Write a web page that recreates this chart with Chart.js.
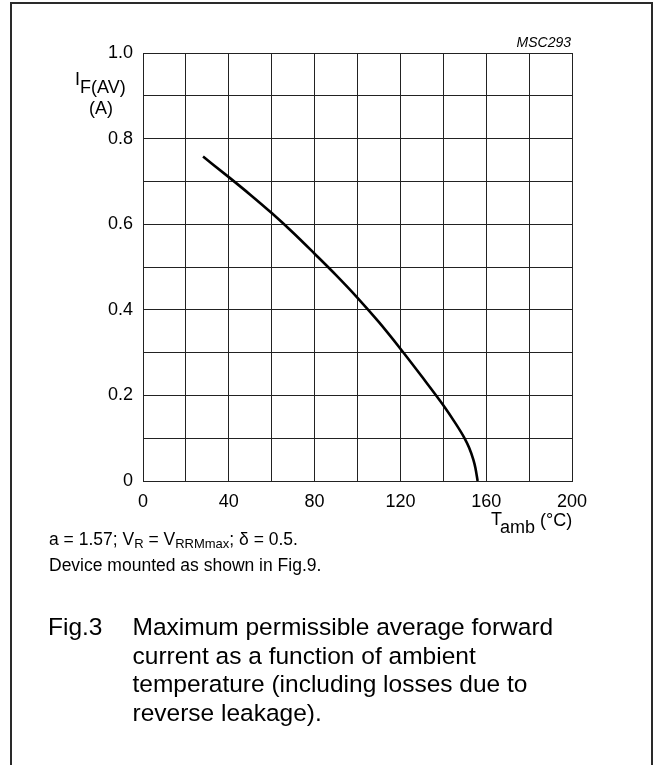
<!DOCTYPE html>
<html>
<head>
<meta charset="utf-8">
<title>Fig.3 - Maximum permissible average forward current</title>
<script src="https://cdn.jsdelivr.net/npm/chart.js@4.4.1/dist/chart.umd.min.js"></script>
<style>
    html, body {
        margin: 0;
        padding: 0;
        background: #fff;
        overflow: hidden;
    }
    #page {
        position: relative;
        width: 653px;
        height: 765px;
        font-family: "Liberation Sans", Arial, Helvetica, sans-serif;
        color: #000;
    }
    #frame {
        position: absolute;
        left: 10px;
        top: 2px;
        width: 643px;
        height: 820px;
        box-sizing: border-box;
        border: 2px solid #2a2a2a;
        border-bottom: none;
    }
    #chart {
        position: absolute;
        left: 0;
        top: 0;
    }
    .t {
        position: absolute;
        line-height: 0;
        white-space: nowrap;
    }
    .lo {
        position: relative;
        line-height: 0;
    }
</style>
</head>
<body>
<div id="page">
    <div id="frame"></div>
    <canvas id="chart" width="653" height="765"></canvas>

    <div class="t" style="right: 82px; top: 42px; font-size: 14px; font-style: italic;">MSC293</div>

    <!-- y axis title -->
    <div class="t" style="left: 75px; top: 79px; font-size: 18px;">I<span class="lo" style="top: 8px;">F(AV)</span></div>
    <div class="t" style="left: 89px; top: 107.5px; font-size: 18px;">(A)</div>

    <!-- x axis title -->
    <div class="t" style="left: 491px; top: 519px; font-size: 18px;">T<span class="lo" style="top: 8px;">amb</span> <span class="lo" style="top: 1px;">(°C)</span></div>

    <!-- notes under the graph -->
    <div class="t" style="left: 49px; top: 539px; font-size: 17.5px;">a = 1.57; V<span class="lo" style="top: 3px; font-size: 13px;">R</span> = V<span class="lo" style="top: 3px; font-size: 13px;">RRMmax</span>; δ = 0.5.</div>
    <div class="t" style="left: 49px; top: 565px; font-size: 17.5px;">Device mounted as shown in Fig.9.</div>

    <!-- figure caption -->
    <div style="position: absolute; left: 48px; top: 613px; font-size: 24.5px; line-height: 28.5px;">Fig.3</div>
    <div style="position: absolute; left: 132.5px; top: 613px; font-size: 24.5px; line-height: 28.5px; white-space: nowrap;">
        Maximum permissible average forward<br>
        current as a function of ambient<br>
        temperature (including losses due to<br>
        reverse leakage).
    </div>
</div>

<script>
// Curve
const ambientTemps = [28, 40, 50, 60, 70, 80, 90, 100, 110, 120, 130, 140, 145, 150, 152, 154, 155, 156];
const forwardCurrent = [0.758, 0.71, 0.669, 0.626, 0.58, 0.531, 0.481, 0.428, 0.371, 0.309, 0.244, 0.177, 0.14, 0.099, 0.078, 0.05, 0.03, 0];

// Labelled ticks
const xTickLabels = [0, 40, 80, 120, 160, 200];
const yTickLabels = ['0', '0.2', '0.4', '0.6', '0.8', '1.0'];

const tickFont = { family: '"Liberation Sans", Arial, sans-serif', size: 18 };
const gridColor = '#222';

const points = ambientTemps.map((t, i) => ({ x: t, y: forwardCurrent[i] }));

const ctx = document.getElementById('chart').getContext('2d');
new Chart(ctx, {
    type: 'scatter',
    data: {
        datasets: [{
            data: points,
            showLine: true,
            borderColor: '#000',
            borderWidth: 2.6,
            pointRadius: 0,
            cubicInterpolationMode: 'monotone',
            fill: false
        }]
    },
    options: {
        responsive: false,
        animation: false,
        devicePixelRatio: 1,
        layout: {
            padding: { left: 0, top: 53, right: 81, bottom: 0 }
        },
        plugins: {
            legend: { display: false },
            tooltip: { enabled: false },
            title: { display: false }
        },
        scales: {
            x: {
                type: 'linear',
                min: 0,
                max: 200,
                afterFit: function(scale) {
                    scale.height = 284;
                },
                ticks: {
                    stepSize: 20,
                    autoSkip: false,
                    maxRotation: 0,
                    padding: 10,
                    color: '#000',
                    font: tickFont,
                    callback: function(value) {
                        return xTickLabels.includes(value) ? String(value) : '';
                    }
                },
                grid: {
                    color: gridColor,
                    lineWidth: 1,
                    drawTicks: false
                },
                border: { color: gridColor, width: 1 }
            },
            y: {
                min: 0,
                max: 1,
                afterFit: function(scale) {
                    scale.width = 143;
                },
                ticks: {
                    stepSize: 0.1,
                    autoSkip: false,
                    padding: 10,
                    color: '#000',
                    font: tickFont,
                    callback: function(value) {
                        const idx = Math.round(value * 10);
                        return idx % 2 === 0 ? yTickLabels[idx / 2] : '';
                    }
                },
                grid: {
                    color: gridColor,
                    lineWidth: 1,
                    drawTicks: false
                },
                border: { color: gridColor, width: 1 }
            }
        }
    }
});
</script>
</body>
</html>
